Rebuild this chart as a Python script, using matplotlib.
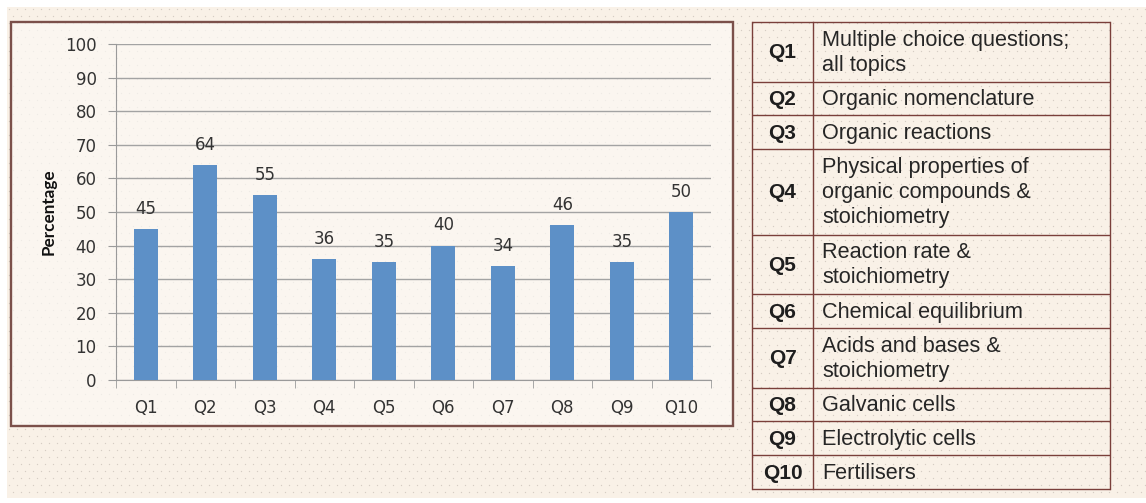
import matplotlib
matplotlib.use("Agg")
import matplotlib.pyplot as plt
from matplotlib.patches import Rectangle
import numpy as np

# ---- data ----
questions = ["Q1", "Q2", "Q3", "Q4", "Q5", "Q6", "Q7", "Q8", "Q9", "Q10"]
percentages = [45, 64, 55, 36, 35, 40, 34, 46, 35, 50]
y_ticks = [0, 10, 20, 30, 40, 50, 60, 70, 80, 90, 100]
y_label = "Percentage"
topics = [
    "Multiple choice questions;\nall topics",
    "Organic nomenclature",
    "Organic reactions",
    "Physical properties of\norganic compounds &\nstoichiometry",
    "Reaction rate &\nstoichiometry",
    "Chemical equilibrium",
    "Acids and bases &\nstoichiometry",
    "Galvanic cells",
    "Electrolytic cells",
    "Fertilisers",
]

W, H = 1146, 503
fig = plt.figure(figsize=(W / 100, H / 100), dpi=100)
fig.patch.set_facecolor("white")

# overlay axes in pixel coordinates
bg = fig.add_axes([0, 0, 1, 1])
bg.set_xlim(0, W)
bg.set_ylim(H, 0)
bg.axis("off")
bg.set_zorder(0)

# cream background with a fine stipple texture
bg.add_patch(Rectangle((7, 7), W - 7, 491, facecolor="#f9f1e7", edgecolor="none"))
gx, gy = np.meshgrid(np.arange(9, W, 8.0), np.arange(9, 497, 7.0))
gx = gx + (np.arange(gx.shape[0])[:, None] % 2) * 4.0
bg.scatter(gx.ravel(), gy.ravel(), s=0.9, color="#b9b0a8", alpha=0.55,
           linewidths=0, zorder=1)
# chart frame
bg.add_patch(Rectangle((11, 22), 722, 404, facecolor="#fcf9f5", edgecolor="#7b504a",
                       linewidth=1.6, alpha=0.7, zorder=2))
bg.add_patch(Rectangle((11, 22), 722, 404, facecolor="none", edgecolor="#7b504a",
                       linewidth=1.6, zorder=3))

# ---- bar chart ----
ax = fig.add_axes([116 / W, (H - 380) / H, 595 / W, 336 / H])
ax.set_zorder(2)
ax.patch.set_alpha(0)
x = np.arange(len(questions))
bars = ax.bar(x, percentages, width=0.4, color="#5d90c7", zorder=3)
ax.set_xlim(-0.5, len(questions) - 0.5)
ax.set_ylim(0, 100)
ax.set_yticks(y_ticks)
ax.set_xticks(x)
ax.set_xticklabels(questions)
ax.set_xticks(np.arange(-0.5, len(questions), 1), minor=True)
ax.tick_params(axis="x", which="major", length=0, pad=14)
ax.tick_params(axis="x", which="minor", length=6, color="#9a9a9a")
ax.tick_params(axis="y", length=6, color="#9a9a9a", pad=8)
for lab in ax.get_xticklabels() + ax.get_yticklabels():
    lab.set_fontfamily("DejaVu Sans")
    lab.set_fontsize(12)
    lab.set_color("#333333")
ax.grid(axis="y", color="#a3a3a3", linewidth=1.0, zorder=1)
for s in ["top", "right"]:
    ax.spines[s].set_visible(False)
ax.spines["left"].set_color("#9a9a9a")
ax.spines["bottom"].set_color("#9a9a9a")
ax.set_ylabel(y_label, fontfamily="Lato", fontweight="bold", fontsize=12.3,
              color="#111111")
ax.yaxis.set_label_coords(-0.099, 0.5)
for xi, v in zip(x, percentages):
    ax.annotate(str(v), (xi, v), xytext=(0, 8), textcoords="offset points",
                ha="center", va="bottom", fontfamily="DejaVu Sans", fontsize=12,
                color="#333333")

# ---- table ----
tb = fig.add_axes([0, 0, 1, 1])
tb.set_xlim(0, W)
tb.set_ylim(H, 0)
tb.axis("off")
tb.set_zorder(3)
tb.patch.set_alpha(0)

x0, x1, x2 = 752, 813, 1110
y_top = 22
line_h = 25.8
pad_h = 8
line_col = "#7a3f3a"
ys = [y_top]
for t in topics:
    n = t.count("\n") + 1
    ys.append(ys[-1] + pad_h + line_h * n)
for yy in ys:
    tb.plot([x0, x2], [yy, yy], color=line_col, lw=1.0, solid_capstyle="butt")
tb.plot([x0, x0], [ys[0], ys[-1]], color=line_col, lw=1.0)
tb.plot([x1, x1], [ys[0], ys[-1]], color=line_col, lw=1.0)
tb.plot([x2, x2], [ys[0], ys[-1]], color=line_col, lw=1.0)
for q, t, ya, yb in zip(questions, topics, ys[:-1], ys[1:]):
    yc = (ya + yb) / 2
    tb.text((x0 + x1) / 2, yc + 1, q, ha="center", va="center",
            fontfamily="Liberation Sans", fontweight="bold", fontsize=15,
            color="#1e1e1e")
    tb.text(x1 + 9, yc + 1, t, ha="left", va="center",
            fontfamily="Liberation Sans", fontsize=15.6, color="#262626",
            linespacing=1.25)

fig.savefig("out.png", dpi=100, facecolor=fig.get_facecolor())
